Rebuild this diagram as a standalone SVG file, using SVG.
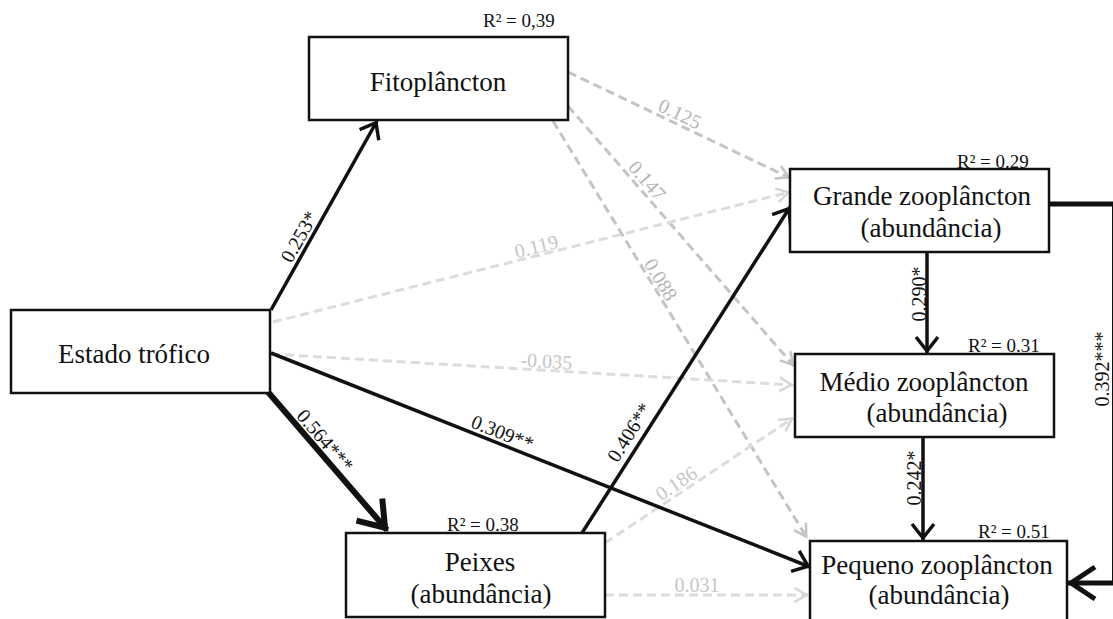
<svg xmlns="http://www.w3.org/2000/svg" width="1113" height="619" viewBox="0 0 1113 619">
<style>
  .box { fill: #ffffff; stroke: #111111; stroke-width: 2.5; }
  .nt { font-family: "Liberation Serif", "Times New Roman", serif; font-size: 27px; fill: #111111; text-anchor: middle; }
  .r2 { font-family: "Liberation Serif", "Times New Roman", serif; font-size: 19px; fill: #111111; }
  .blk { fill: none; stroke: #111111; stroke-width: 3.5; }
  .dg { fill: none; stroke: #c4c4c4; stroke-width: 3; stroke-dasharray: 9 5; }
  .lg { fill: none; stroke: #dcdcdc; stroke-width: 3; stroke-dasharray: 9 5; }
  .el { font-family: "Liberation Serif", "Times New Roman", serif; font-size: 20px; text-anchor: middle; }
  .eb { fill: #111111; }
  .edg { fill: #b4b4b4; }
  .elg { fill: #c6c6c6; }
</style>
<defs>
  <marker id="ah" viewBox="-20 -16 24 32" refX="2" refY="0" markerWidth="24" markerHeight="32" markerUnits="userSpaceOnUse" orient="auto">
    <path d="M-14,-11 L0,0 L-14,11" fill="none" stroke="#111111" stroke-width="3.5"/>
  </marker>
  <marker id="ahBig" viewBox="-32 -24 38 48" refX="3" refY="0" markerWidth="38" markerHeight="48" markerUnits="userSpaceOnUse" orient="auto">
    <path d="M-24,-17 L0,0 L-24,17" fill="none" stroke="#111111" stroke-width="6"/>
  </marker>
  <marker id="ahR" viewBox="-32 -24 38 48" refX="3" refY="0" markerWidth="38" markerHeight="48" markerUnits="userSpaceOnUse" orient="auto">
    <path d="M-24,-16 L0,0 L-24,16" fill="none" stroke="#111111" stroke-width="5"/>
  </marker>
  <marker id="agD" viewBox="-16 -10 20 20" refX="1.5" refY="0" markerWidth="20" markerHeight="20" markerUnits="userSpaceOnUse" orient="auto">
    <path d="M-12,-7 L0,0 L-12,7" fill="none" stroke="#c4c4c4" stroke-width="2.5"/>
  </marker>
  <marker id="agL" viewBox="-16 -10 20 20" refX="1.5" refY="0" markerWidth="20" markerHeight="20" markerUnits="userSpaceOnUse" orient="auto">
    <path d="M-12,-7 L0,0 L-12,7" fill="none" stroke="#d6d6d6" stroke-width="2.5"/>
  </marker>
</defs>

<g id="connectors">
  <path class="dg" d="M568,72 L790,178" marker-end="url(#agD)"/>
  <path class="dg" d="M568,106 L794,366" marker-end="url(#agD)"/>
  <path class="dg" d="M553,121 L807,538" marker-end="url(#agD)"/>
  <path class="lg" d="M273,322 L790,192" marker-end="url(#agL)"/>
  <path class="lg" d="M271,354 L793,385" marker-end="url(#agL)"/>
  <path class="lg" d="M605,543 L793,418" marker-end="url(#agL)"/>
  <path class="lg" d="M605,595 L808,595" marker-end="url(#agL)"/>
  <path class="blk" d="M271,310 L377,121" marker-end="url(#ah)"/>
  <path class="blk" d="M271,353 L810,567" marker-end="url(#ah)"/>
  <path class="blk" d="M582,533 L790,207" marker-end="url(#ah)"/>
  <path class="blk" d="M927,252 L927,353" marker-end="url(#ah)"/>
  <path class="blk" d="M923,437 L923,540" marker-end="url(#ah)"/>
  <path class="blk" d="M268,392 L387,530" style="stroke-width:6" marker-end="url(#ahBig)"/>
  <path class="blk" d="M1049,204 H1114.5 V583 H1068" style="stroke-width:5" marker-end="url(#ahR)"/>

  <text class="el edg" transform="translate(677,120) rotate(25.5)">0.125</text>
  <text class="el edg" transform="translate(642,185) rotate(49)">0.147</text>
  <text class="el edg" transform="translate(655,283) rotate(58.6)">0.088</text>
  <text class="el elg" transform="translate(538,253) rotate(-14.1)">0.119</text>
  <text class="el elg" transform="translate(546,368) rotate(3.4)">-0.035</text>
  <text class="el elg" transform="translate(680,489) rotate(-33.8)">0.186</text>
  <text class="el elg" transform="translate(697,592)">0.031</text>
  <text class="el eb" transform="translate(305,240) rotate(-60.7)">0.253*</text>
  <text class="el eb" transform="translate(500,439) rotate(21.6)">0.309**</text>
  <text class="el eb" transform="translate(635,436) rotate(-57.5)">0.406**</text>
  <text class="el eb" transform="translate(320,445) rotate(49.2)">0.564***</text>
  <text class="el eb" transform="translate(926,294) rotate(-90)">0.290*</text>
  <text class="el eb" transform="translate(921,478) rotate(-90)">0.242*</text>
  <text class="el eb" transform="translate(1109,369) rotate(-90)">0.392***</text>
</g>

<g id="node-fitoplancton">
  <text class="r2" x="483" y="27">R² = 0,39</text>
  <rect class="box" x="309" y="37" width="259" height="83"/>
  <text class="nt" x="438" y="91">Fitoplâncton</text>
</g>

<g id="node-estado-trofico">
  <rect class="box" x="11" y="310" width="259" height="83"/>
  <text class="nt" x="134" y="363">Estado trófico</text>
</g>

<g id="node-grande">
  <text class="r2" x="957" y="168">R² = 0.29</text>
  <rect class="box" x="790" y="169" width="259" height="83"/>
  <text class="nt" x="922" y="205">Grande zooplâncton</text>
  <text class="nt" x="931" y="237">(abundância)</text>
</g>

<g id="node-medio">
  <text class="r2" x="968" y="352">R² = 0.31</text>
  <rect class="box" x="795" y="354" width="259" height="83"/>
  <text class="nt" x="924" y="391">Médio zooplâncton</text>
  <text class="nt" x="937" y="422">(abundância)</text>
</g>

<g id="node-pequeno">
  <text class="r2" x="978" y="538">R² = 0.51</text>
  <rect class="box" x="810" y="541" width="257" height="90"/>
  <text class="nt" x="937" y="574">Pequeno zooplâncton</text>
  <text class="nt" x="939" y="604">(abundância)</text>
</g>

<g id="node-peixes">
  <text class="r2" x="447" y="531">R² = 0.38</text>
  <rect class="box" x="346" y="533" width="259" height="84"/>
  <text class="nt" x="480" y="571">Peixes</text>
  <text class="nt" x="481" y="603">(abundância)</text>
</g>
</svg>
